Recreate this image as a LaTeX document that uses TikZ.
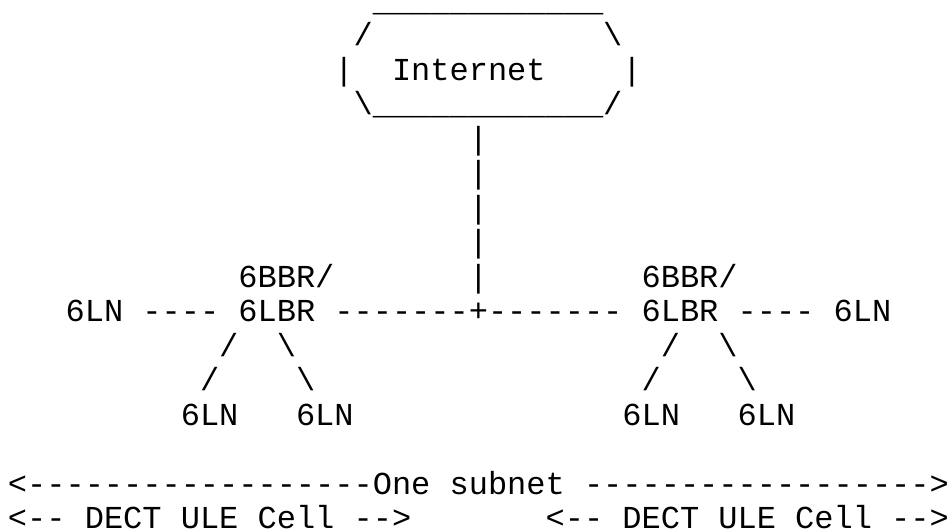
\documentclass[tikz,border=0pt]{standalone}
\usepackage{fontspec}
\setmonofont{Liberation Mono}
\tikzset{tok/.style={anchor=base west, inner sep=0pt, outer sep=0pt,
  font=\ttfamily\fontsize{32}{34.5}\selectfont, text=black}}
\newcommand\asciitok[4]{\node[tok] (#1) at ({8pt+19.2pt*#2},{-11pt-34.5pt*#3}) {#4};}
\newcommand\bs{\textbackslash}
\begin{document}
\begin{tikzpicture}
\fill[white] (0pt,0pt) rectangle (948pt,-530pt);
\useasboundingbox (0pt,0pt) rectangle (948pt,-530pt);
% Internet cloud
\asciitok{topline}{19}{0}{\_\_\_\_\_\_\_\_\_\_\_\_}
\asciitok{tl}{18}{1}{/}
\asciitok{tr}{31}{1}{\bs}
\asciitok{ml}{17}{2}{|}
\asciitok{inet}{20}{2}{Internet}
\asciitok{mr}{32}{2}{|}
\asciitok{botline}{18}{3}{\bs\_\_\_\_\_\_\_\_\_\_\_\_/}
% vertical link
\asciitok{v4}{24}{4}{|}
\asciitok{v5}{24}{5}{|}
\asciitok{v6}{24}{6}{|}
\asciitok{v7}{24}{7}{|}
\asciitok{v8}{24}{8}{|}
% routers
\asciitok{bbrL}{12}{8}{6BBR/}
\asciitok{bbrR}{33}{8}{6BBR/}
\asciitok{lnA}{3}{9}{6LN}
\asciitok{dA}{7}{9}{----}
\asciitok{lbrL}{12}{9}{6LBR}
\asciitok{bus}{17}{9}{-------+-------}
\asciitok{lbrR}{33}{9}{6LBR}
\asciitok{dB}{38}{9}{----}
\asciitok{lnB}{43}{9}{6LN}
% left tree
\asciitok{l1a}{11}{10}{/}
\asciitok{l1b}{14}{10}{\bs}
\asciitok{l2a}{10}{11}{/}
\asciitok{l2b}{15}{11}{\bs}
\asciitok{lnC}{9}{12}{6LN}
\asciitok{lnD}{15}{12}{6LN}
% right tree
\asciitok{r1a}{34}{10}{/}
\asciitok{r1b}{37}{10}{\bs}
\asciitok{r2a}{33}{11}{/}
\asciitok{r2b}{38}{11}{\bs}
\asciitok{lnE}{32}{12}{6LN}
\asciitok{lnF}{38}{12}{6LN}
% subnet line
\asciitok{subL}{0}{14}{<------------------}
\asciitok{subOne}{19}{14}{One}
\asciitok{subSub}{23}{14}{subnet}
\asciitok{subR}{30}{14}{------------------>}
% cells
\asciitok{c1a}{0}{15}{<--}
\asciitok{c1b}{4}{15}{DECT}
\asciitok{c1c}{9}{15}{ULE}
\asciitok{c1d}{13}{15}{Cell}
\asciitok{c1e}{18}{15}{-->}
\asciitok{c2a}{28}{15}{<--}
\asciitok{c2b}{32}{15}{DECT}
\asciitok{c2c}{37}{15}{ULE}
\asciitok{c2d}{41}{15}{Cell}
\asciitok{c2e}{46}{15}{-->}
\end{tikzpicture}
\end{document}
